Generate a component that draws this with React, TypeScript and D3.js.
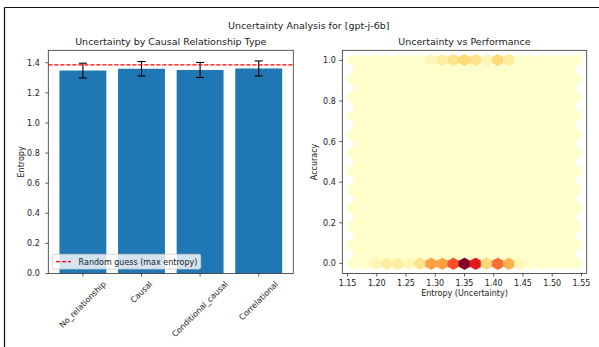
import React from "react";
import * as d3 from "d3";

// Bar panel: mean entropy per relationship type with std error bars
const categories = ["No_relationship", "Causal", "Conditional_causal", "Correlational"];
const meanEntropy = [1.348, 1.36, 1.352, 1.362];
const entropyErr = [0.049, 0.048, 0.05, 0.05];
const maxEntropy = 1.386; // ln(4): uniform guess over four classes
const barTicks = [0, 0.2, 0.4, 0.6, 0.8, 1.0, 1.2, 1.4];

// Hexbin panel: counts per hex column (lattice-1 columns) for accuracy 0 and accuracy 1
const entropyExtent = [1.16, 1.54];
const accuracyExtent = [0, 1];
const hexGridSize = 20;
const countsAcc0 = [0, 0, 1, 2, 2, 1, 3, 7, 7, 10, 16, 12, 4, 9, 6, 1, 0, 0, 0, 0, 0];
const countsAcc1 = [0, 0, 0, 0, 0, 0, 0, 1, 2, 3, 4, 3, 1, 4, 2, 0, 0, 0, 0, 0, 0];
const hexXTicks = [1.15, 1.2, 1.25, 1.3, 1.35, 1.4, 1.45, 1.5, 1.55];
const hexYTicks = [0, 0.2, 0.4, 0.6, 0.8, 1.0];

const ylOrRd = ["#ffffcc", "#ffeda0", "#fed976", "#feb24c", "#fd8d3c", "#fc4e2a", "#e31a1c", "#bd0026", "#800026"];

const FONT = '"DejaVu Sans", Verdana, sans-serif';
const TICK_FS = 8;
const TITLE_FS = 9.5;
const INK = "#1a1a1a";
const SPINE = "#333";

function measure(str: string, size: number): number {
  const ctx = document.createElement("canvas").getContext("2d");
  if (!ctx) return str.length * size * 0.55;
  ctx.font = `${size}px ${FONT}`;
  return ctx.measureText(str).width;
}

function fmt2(v: number) {
  return v.toFixed(2);
}
function fmt1(v: number) {
  return v.toFixed(1);
}

export default function App() {
  const W = 599;
  const H = 347;

  // ---- left panel geometry ----
  const L = { left: 48.3, right: 293.3, top: 50.3, bottom: 273.5 };
  const barYMax = d3.max(meanEntropy.map((v, i) => v + entropyErr[i])) as number;
  const xBar = d3.scaleLinear().domain([-0.59, categories.length - 1 + 0.59]).range([L.left, L.right]);
  const yBar = d3.scaleLinear().domain([0, barYMax * 1.05]).range([L.bottom, L.top]);
  const barW = xBar(0.8) - xBar(0);

  // ---- right panel geometry ----
  const R = { left: 342.3, right: 586.7, top: 50.3, bottom: 273.5 };
  const [ex0, ex1] = entropyExtent;
  const [ay0, ay1] = accuracyExtent;
  const xMarg = (ex1 - ex0) * 0.05;
  const yMarg = (ay1 - ay0) * 0.05;
  const xHex = d3.scaleLinear().domain([ex0 - xMarg, ex1 + xMarg]).range([R.left, R.right]);
  const yHex = d3.scaleLinear().domain([ay0 - yMarg, ay1 + yMarg]).range([R.bottom, R.top]);

  const nx = hexGridSize;
  const ny = Math.floor(nx / Math.sqrt(3));
  const sx = (ex1 - ex0) / nx;
  const sy = (ay1 - ay0) / ny;
  const maxCount = Math.max(d3.max(countsAcc0) as number, d3.max(countsAcc1) as number);
  const color = d3
    .scaleLinear<string>()
    .domain(ylOrRd.map((_, i) => (i / (ylOrRd.length - 1)) * maxCount))
    .range(ylOrRd)
    .interpolate(d3.interpolateRgb)
    .clamp(true);

  type Hex = { cx: number; cy: number; count: number };
  const hexes: Hex[] = [];
  // lattice 1
  for (let i = 0; i <= nx; i++) {
    for (let j = 0; j <= ny; j++) {
      let count = 0;
      if (j === 0) count = countsAcc0[i];
      if (j === ny) count = countsAcc1[i];
      hexes.push({ cx: ex0 + i * sx, cy: ay0 + j * sy, count });
    }
  }
  // lattice 2
  for (let i = 0; i < nx; i++) {
    for (let j = 0; j < ny; j++) {
      hexes.push({ cx: ex0 + (i + 0.5) * sx, cy: ay0 + (j + 0.5) * sy, count: 0 });
    }
  }
  const hexShape = [
    [0.5, -0.5],
    [0.5, 0.5],
    [0, 1],
    [-0.5, 0.5],
    [-0.5, -0.5],
    [0, -1],
  ];
  const hexPath = (h: Hex) =>
    "M" +
    hexShape
      .map(([a, b]) => `${xHex(h.cx + a * sx).toFixed(2)},${yHex(h.cy + (b * sy) / 3).toFixed(2)}`)
      .join("L") +
    "Z";

  const tickLen = 3;
  const rotTop = 279.5;
  const lineH = TICK_FS * 1.17;

  return (
    <svg
      width={W}
      height={H}
      viewBox={`0 0 ${W} ${H}`}
      style={{ position: "absolute", left: 0, top: 0, background: "#fff", fontFamily: FONT }}
    >
      {/* outer frame */}
      <line x1={4.5} y1={7.5} x2={W} y2={7.5} stroke="#111" strokeWidth={1.2} />
      <line x1={4.5} y1={7.5} x2={4.5} y2={H} stroke="#111" strokeWidth={1.2} />

      <text x={308.7} y={28.7} fontSize={TITLE_FS} textAnchor="middle" fill={INK}>
        Uncertainty Analysis for [gpt-j-6b]
      </text>

      {/* ---------- left: bar chart ---------- */}
      <text x={(L.left + L.right) / 2} y={45.4} fontSize={TITLE_FS} textAnchor="middle" fill={INK}>
        Uncertainty by Causal Relationship Type
      </text>
      {categories.map((c, i) => (
        <rect
          key={c}
          x={xBar(i) - barW / 2}
          y={yBar(meanEntropy[i])}
          width={barW}
          height={yBar(0) - yBar(meanEntropy[i])}
          fill="#1f77b4"
        />
      ))}
      {categories.map((c, i) => {
        const x = xBar(i);
        const y1 = yBar(meanEntropy[i] + entropyErr[i]);
        const y2 = yBar(meanEntropy[i] - entropyErr[i]);
        return (
          <g key={"err" + c} stroke="#000" strokeWidth={1.1}>
            <line x1={x} x2={x} y1={y1} y2={y2} />
            <line x1={x - 4} x2={x + 4} y1={y1} y2={y1} />
            <line x1={x - 4} x2={x + 4} y1={y2} y2={y2} />
          </g>
        );
      })}
      <line
        x1={L.left}
        x2={L.right}
        y1={yBar(maxEntropy)}
        y2={yBar(maxEntropy)}
        stroke="#ff0000"
        strokeWidth={1.1}
        strokeDasharray="4.2,1.8"
      />
      {/* legend */}
      <rect x={52.3} y={254.3} width={148.4} height={14.7} rx={1.8} fill="#fff" fillOpacity={0.8} stroke="#cccccc" strokeWidth={0.8} />
      <line x1={56} x2={71} y1={261.6} y2={261.6} stroke="#ff0000" strokeWidth={1.1} strokeDasharray="4.2,1.8" />
      <text x={78.6} y={264.6} fontSize={TICK_FS} fill={INK}>
        Random guess (max entropy)
      </text>
      {/* spines */}
      <rect x={L.left} y={L.top} width={L.right - L.left} height={L.bottom - L.top} fill="none" stroke={SPINE} strokeWidth={0.8} />
      {/* y ticks */}
      {barTicks.map((t) => (
        <g key={"by" + t}>
          <line x1={L.left - tickLen} x2={L.left} y1={yBar(t)} y2={yBar(t)} stroke={SPINE} strokeWidth={0.8} />
          <text x={L.left - 8.5} y={yBar(t) + 2.9} fontSize={TICK_FS} textAnchor="end" fill={INK}>
            {fmt1(t)}
          </text>
        </g>
      ))}
      {/* x ticks with rotated labels */}
      {categories.map((c, i) => {
        const x = xBar(i);
        const w = measure(c, TICK_FS);
        const cy = rotTop + ((w + lineH) * Math.SQRT1_2) / 2;
        return (
          <g key={"bx" + c}>
            <line x1={x} x2={x} y1={L.bottom} y2={L.bottom + tickLen} stroke={SPINE} strokeWidth={0.8} />
            <text
              x={x}
              y={cy}
              fontSize={TICK_FS}
              textAnchor="middle"
              dominantBaseline="central"
              transform={`rotate(-45, ${x}, ${cy})`}
              fill={INK}
            >
              {c}
            </text>
          </g>
        );
      })}
      <text
        x={24.3}
        y={(L.top + L.bottom) / 2}
        fontSize={TICK_FS}
        textAnchor="middle"
        transform={`rotate(-90, 24.3, ${(L.top + L.bottom) / 2})`}
        fill={INK}
      >
        Entropy
      </text>

      {/* ---------- right: hexbin ---------- */}
      <text x={(R.left + R.right) / 2} y={45.4} fontSize={TITLE_FS} textAnchor="middle" fill={INK}>
        Uncertainty vs Performance
      </text>
      <g>
        {hexes.map((h, k) => {
          const c = color(h.count);
          return <path key={k} d={hexPath(h)} fill={c} stroke={c} strokeWidth={0.8} />;
        })}
      </g>
      <rect x={R.left} y={R.top} width={R.right - R.left} height={R.bottom - R.top} fill="none" stroke={SPINE} strokeWidth={0.8} />
      {hexYTicks.map((t) => (
        <g key={"hy" + t}>
          <line x1={R.left - tickLen} x2={R.left} y1={yHex(t)} y2={yHex(t)} stroke={SPINE} strokeWidth={0.8} />
          <text x={R.left - 6.5} y={yHex(t) + 2.9} fontSize={TICK_FS} textAnchor="end" fill={INK}>
            {fmt1(t)}
          </text>
        </g>
      ))}
      {hexXTicks.map((t) => (
        <g key={"hx" + t}>
          <line x1={xHex(t)} x2={xHex(t)} y1={R.bottom} y2={R.bottom + tickLen} stroke={SPINE} strokeWidth={0.8} />
          <text x={xHex(t)} y={286.2} fontSize={TICK_FS} textAnchor="middle" fill={INK}>
            {fmt2(t)}
          </text>
        </g>
      ))}
      <text x={(R.left + R.right) / 2} y={296.3} fontSize={TICK_FS} textAnchor="middle" fill={INK}>
        Entropy (Uncertainty)
      </text>
      <text
        x={317}
        y={(R.top + R.bottom) / 2}
        fontSize={TICK_FS}
        textAnchor="middle"
        transform={`rotate(-90, 317, ${(R.top + R.bottom) / 2})`}
        fill={INK}
      >
        Accuracy
      </text>
    </svg>
  );
}
